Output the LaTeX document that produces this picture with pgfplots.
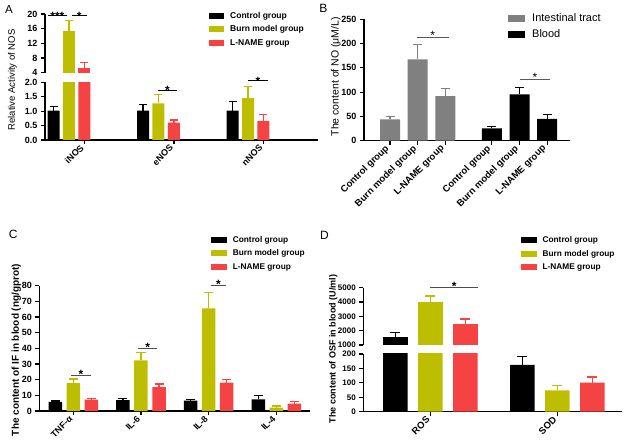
\documentclass[border=0pt]{standalone}
\usepackage{pgfplots}
\pgfplotsset{compat=1.18}
\usepackage{fontspec}
\setmainfont{Liberation Sans}
\definecolor{colive}{RGB}{190,190,0}
\definecolor{cred}{RGB}{245,66,66}
\definecolor{cgrey}{RGB}{128,128,128}
\newcommand{\fs}[1]{\fontsize{#1bp}{#1bp}\selectfont}
\pgfplotsset{
  base/.style={scale only axis, /pgf/number format/assume math mode=true,
    axis line style={-, line width=1.2bp},
    every tick/.style={line width=1.2bp, black},
    tick align=outside, major tick length=4bp, clip marker paths=true},
  lowerax/.style={base, axis x line*=bottom, axis y line*=left},
  upperax/.style={base, axis x line=none, axis y line*=left},
  overlay/.style={scale only axis, hide axis, clip=false},
  eb/.style n args={2}{error bars/.cd, y dir=plus, y explicit,
    error bar style={draw=#1, line width=1.3bp},
    error mark=|, error mark options={draw=#1, mark size=#2, line width=1.3bp}},
  sq/.style n args={3}{legend image code/.code={\draw[##1,draw=none] (0bp,-#2) rectangle (#1,#2);}},
}
\begin{document}
\begin{tikzpicture}
\useasboundingbox (0,0) rectangle (625bp,442bp);
% ---------------- Panel A ----------------
\begin{axis}[lowerax, at={(45bp,302bp)}, anchor=south west, width=273bp, height=57.7bp,
  xmin=-0.268, xmax=2.782, ymin=0, ymax=2,
  ytick={0,0.5,1,1.5,2}, yticklabel style={font=\fs{9}\bfseries, /pgf/number format/fixed, /pgf/number format/fixed zerofill, /pgf/number format/precision=1},
  xtick={0.173,1.173,2.173}, xticklabels={iNOS,eNOS,nNOS},
  xticklabel style={rotate=45, anchor=east, font=\fs{9}\bfseries}]
\addplot[ybar, bar width=12bp, fill=black, draw=none, eb={black}{4bp}]
  coordinates {(-0.173,1.02) +- (0,0.13) (0.827,1.02) +- (0,0.22) (1.827,1.02) +- (0,0.31)};
\addplot[ybar, bar width=12bp, fill=colive, draw=none, eb={colive}{4bp}]
  coordinates {(0,15.45) +- (0,2.75) (1,1.27) +- (0,0.30) (2,1.45) +- (0,0.40)};
\addplot[ybar, bar width=12bp, fill=cred, draw=none, eb={cred}{4bp}]
  coordinates {(0.173,5.36) +- (0,1.34) (1.173,0.60) +- (0,0.09) (2.173,0.66) +- (0,0.23)};
\end{axis}
\begin{axis}[upperax, at={(45bp,369.3bp)}, anchor=south west, width=273bp, height=58.7bp,
  xmin=-0.268, xmax=2.782, ymin=4, ymax=20,
  ytick={4,8,12,16,20}, yticklabel style={font=\fs{9}\bfseries},
  legend style={at={(0.6007,0.736)}, anchor=west, draw=none, fill=none, inner sep=0pt,
    font=\fs{8.5}\bfseries, row sep=5.5bp, column sep=6bp,
    nodes={inner sep=0pt, text height=6.5bp, text depth=1.5bp}},
  legend cell align=left, sq={15bp}{3bp}{}]
% upper segment: only the iNOS values reach above the break
\addplot[ybar, bar width=12bp, fill=black, draw=none, eb={black}{4bp}]
  coordinates {(-0.173,1.02) +- (0,0.13)};
\addplot[ybar, bar width=12bp, fill=colive, draw=none, eb={colive}{4bp}]
  coordinates {(0,15.45) +- (0,2.75)};
\addplot[ybar, bar width=12bp, fill=cred, draw=none, eb={cred}{4bp}]
  coordinates {(0.173,5.36) +- (0,1.34)};
\legend{Control group, Burn model group, L-NAME group}
\end{axis}
\begin{axis}[overlay, at={(45bp,369.3bp)}, anchor=south west, width=273bp, height=58.7bp,
  xmin=-0.268, xmax=2.782, ymin=4, ymax=20]
\addplot[black, line width=0.8bp] coordinates {(-0.24,19.5) (-0.02,19.5)};
\addplot[black, line width=0.8bp] coordinates {(0.03,19.5) (0.20,19.5)};
\node[anchor=base, yshift=-4.5bp, font=\fs{12}\bfseries] at (axis cs:-0.13,19.5) {***};
\node[anchor=base, yshift=-4.5bp, font=\fs{12}\bfseries] at (axis cs:0.115,19.5) {*};
\end{axis}
\begin{axis}[overlay, at={(45bp,302bp)}, anchor=south west, width=273bp, height=57.7bp,
  xmin=-0.268, xmax=2.782, ymin=0, ymax=2]
\addplot[black, line width=0.8bp] coordinates {(0.99,1.72) (1.21,1.72)};
\addplot[black, line width=0.8bp] coordinates {(2.005,2.05) (2.22,2.05)};
\node[anchor=base, yshift=-4.5bp, font=\fs{12}\bfseries] at (axis cs:1.10,1.72) {*};
\node[anchor=base, yshift=-4.5bp, font=\fs{12}\bfseries] at (axis cs:2.11,2.05) {*};
\end{axis}
\node[rotate=90, font=\fs{9.5}] at (12.5bp,362bp) {Relative Activity of NOS};
\node[font=\fs{11.5}] at (9bp,432.8bp) {A};
% ---------------- Panel B ----------------
\begin{axis}[lowerax, clip=false, at={(364bp,301.3bp)}, anchor=south west, width=206bp, height=121.4bp,
  xmin=-0.939, xmax=6.498, ymin=0, ymax=250,
  ytick={0,50,100,150,200,250}, yticklabel style={font=\fs{9}\bfseries},
  xtick={0,1,2,3.675,4.675,5.675},
  xticklabels={Control group,Burn model group,L-NAME group,Control group,Burn model group,L-NAME group},
  xticklabel style={rotate=45, anchor=east, font=\fs{9.5}\bfseries},
  legend style={at={(0.699,0.9366)}, anchor=west, draw=none, fill=none, inner sep=0pt,
    font=\fs{11}, row sep=6bp, column sep=7bp,
    nodes={inner sep=0pt, text height=8bp, text depth=2bp}},
  legend cell align=left, sq={17bp}{3.5bp}{}]
\addplot[ybar, bar width=20bp, fill=cgrey, draw=none, eb={cgrey}{4.5bp}]
  coordinates {(0,44) +- (0,5.4) (1,167.6) +- (0,31) (2,92) +- (0,16)};
\addplot[ybar, bar width=20bp, fill=black, draw=none, eb={black}{4.5bp}]
  coordinates {(3.675,25.5) +- (0,3.3) (4.675,95.5) +- (0,14.5) (5.675,44.7) +- (0,9.7)};
\legend{Intestinal tract, Blood}
\addplot[black!65, line width=0.8bp, forget plot] coordinates {(0.96,213) (2.13,213)};
\addplot[black!65, line width=0.8bp, forget plot] coordinates {(4.69,126) (5.78,126)};
\node[anchor=base, yshift=-2bp, font=\fs{12}] at (axis cs:1.545,213) {*};
\node[anchor=base, yshift=-2bp, font=\fs{12}] at (axis cs:5.235,126) {*};
\end{axis}
\node[rotate=90, font=\fs{10.5}] at (336bp,365.3bp) {The content of NO (μM/L)};
\node[font=\fs{12}] at (323.3bp,433.7bp) {B};
% ---------------- Panel C ----------------
\begin{axis}[lowerax, clip=false, at={(39.3bp,31bp)}, anchor=south west, width=270.7bp, height=125.3bp,
  xmin=-0.502, xmax=3.496, ymin=0, ymax=80,
  ytick={0,10,...,80}, yticklabel style={font=\fs{9}\bfseries},
  xtick={0,1,2,3}, xticklabels={TNF-α,IL-6,IL-8,IL-4},
  xticklabel style={rotate=45, anchor=east, font=\fs{9}\bfseries},
  legend style={at={(0.633,1.257)}, anchor=west, draw=none, fill=none, inner sep=0pt,
    font=\fs{8.3}\bfseries, row sep=5.3bp, column sep=6bp,
    nodes={inner sep=0pt, text height=6.5bp, text depth=1.5bp}},
  legend cell align=left, sq={16bp}{3bp}{}]
\addplot[ybar, bar width=13.5bp, fill=black, draw=none, eb={black}{4.5bp}]
  coordinates {(-0.266,5.8) +- (0,0.6) (0.734,7.0) +- (0,1.0) (1.734,6.6) +- (0,0.9) (2.734,7.5) +- (0,2.3)};
\addplot[ybar, bar width=13.5bp, fill=colive, draw=none, eb={colive}{4.5bp}]
  coordinates {(0,17.8) +- (0,2.6) (1,32.4) +- (0,5.0) (2,65.5) +- (0,10.0) (3,2.1) +- (0,1.0)};
\addplot[ybar, bar width=13.5bp, fill=cred, draw=none, eb={cred}{4.5bp}]
  coordinates {(0.266,7.3) +- (0,0.8) (1.266,15.2) +- (0,2.1) (2.266,18.1) +- (0,2.1) (3.266,4.7) +- (0,1.2)};
\legend{Control group, Burn model group, L-NAME group}
\addplot[black!70, line width=0.8bp, forget plot] coordinates {(-0.03,22.8) (0.26,22.8)};
\addplot[black!70, line width=0.8bp, forget plot] coordinates {(0.96,40) (1.24,40)};
\addplot[black!70, line width=0.8bp, forget plot] coordinates {(2.03,80) (2.26,80)};
\node[anchor=base, yshift=-3bp, font=\fs{12}\bfseries] at (axis cs:0.115,22.8) {*};
\node[anchor=base, yshift=-3bp, font=\fs{12}\bfseries] at (axis cs:1.10,40) {*};
\node[anchor=base, yshift=-3bp, font=\fs{12}\bfseries] at (axis cs:2.145,80) {*};
\end{axis}
\node[rotate=90, font=\fs{10}\bfseries] at (16.2bp,92bp) {The content of IF in blood (ng/gprot)};
\node[font=\fs{12}] at (13.3bp,207.3bp) {C};
% ---------------- Panel D ----------------
\begin{axis}[lowerax, at={(363.3bp,30.3bp)}, anchor=south west, width=258.4bp, height=57.7bp,
  xmin=-0.529, xmax=1.506, ymin=0, ymax=200,
  ytick={0,50,100,150,200}, yticklabel style={font=\fs{8}\bfseries},
  xtick={0,1}, xticklabels={ROS,SOD},
  xticklabel style={rotate=45, anchor=east, font=\fs{9.5}\bfseries}]
\addplot[ybar, bar width=24.5bp, fill=black, draw=none, eb={black}{5bp}]
  coordinates {(-0.2756,1580) +- (0,280) (0.7244,162) +- (0,29)};
\addplot[ybar, bar width=24.5bp, fill=colive, draw=none, eb={colive}{5bp}]
  coordinates {(0,4024) +- (0,395) (1,74) +- (0,16)};
\addplot[ybar, bar width=24.5bp, fill=cred, draw=none, eb={cred}{5bp}]
  coordinates {(0.2756,2465) +- (0,350) (1.2756,100.6) +- (0,19.4)};
\end{axis}
\begin{axis}[upperax, at={(363.3bp,97bp)}, anchor=south west, width=258.4bp, height=57.3bp,
  xmin=-0.529, xmax=1.506, ymin=1000, ymax=5000,
  ytick={1000,2000,3000,4000,5000}, yticklabel style={font=\fs{8}\bfseries, /pgf/number format/1000 sep={}},
  legend style={at={(0.608,1.593)}, anchor=west, draw=none, fill=none, inner sep=0pt,
    font=\fs{8.3}\bfseries, row sep=5.3bp, column sep=6bp,
    nodes={inner sep=0pt, text height=6.5bp, text depth=1.5bp}},
  legend cell align=left, sq={16bp}{3bp}{}]
% upper segment: only the ROS values reach above the break
\addplot[ybar, bar width=24.5bp, fill=black, draw=none, eb={black}{5bp}]
  coordinates {(-0.2756,1580) +- (0,280)};
\addplot[ybar, bar width=24.5bp, fill=colive, draw=none, eb={colive}{5bp}]
  coordinates {(0,4024) +- (0,395)};
\addplot[ybar, bar width=24.5bp, fill=cred, draw=none, eb={cred}{5bp}]
  coordinates {(0.2756,2465) +- (0,350)};
\legend{Control group, Burn model group, L-NAME group}
\end{axis}
\begin{axis}[overlay, at={(363.3bp,97bp)}, anchor=south west, width=258.4bp, height=57.3bp,
  xmin=-0.529, xmax=1.506, ymin=1000, ymax=5000]
\addplot[black!70, line width=0.8bp] coordinates {(0,4990) (0.374,4990)};
\node[anchor=base, yshift=-3bp, font=\fs{12}\bfseries] at (axis cs:0.187,4990) {*};
\end{axis}
\node[rotate=90, font=\fs{9}\bfseries] at (333.3bp,92.8bp) {The content of OSF in blood (U/ml)};
\node[font=\fs{12}] at (324.5bp,207bp) {D};
\end{tikzpicture}
\end{document}
